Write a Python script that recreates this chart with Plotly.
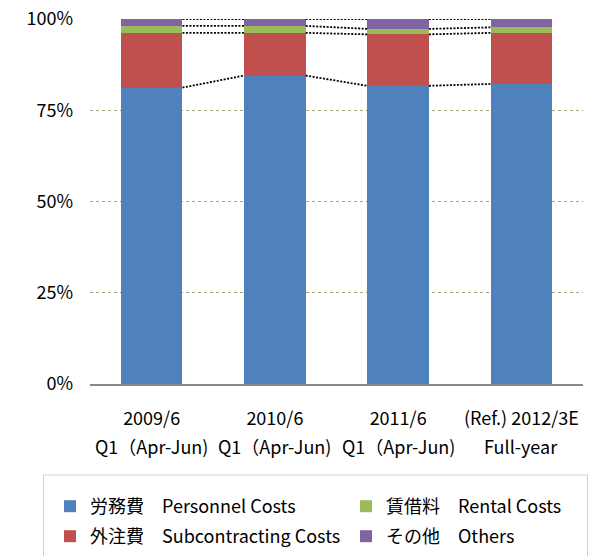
import plotly.graph_objects as go
import numpy as np

categories_line1 = ["2009/6", "2010/6", "2011/6", "(Ref.) 2012/3E"]
categories_line2 = ["Q1（Apr-Jun)", "Q1（Apr-Jun)", "Q1（Apr-Jun)", "Full-year"]
personnel = [81.2, 84.5, 81.7, 82.2]
subcontracting = [15.0, 11.7, 14.1, 14.0]
rental = [1.9, 1.9, 1.5, 1.5]
others = [1.9, 1.9, 2.7, 2.3]
series_names = ["労務費　Personnel Costs", "外注費　Subcontracting Costs",
                "賃借料　Rental Costs", "その他　Others"]
y_ticks = [0, 25, 50, 75, 100]
y_ticktext = ["0%", "25%", "50%", "75%", "100%"]

colors = ["#4F81BD", "#C0504D", "#9BBB59", "#8064A2"]
FONT = "Noto Sans CJK JP"
FS = 18
W, H = 590, 556
L, R, T, B = 90, 7, 19, 172
PW, PH = W - L - R, H - T - B

def px_x(px):
    return (px - L) / PW

def px_y(py):
    return (H - B - py) / PH

x = list(range(len(categories_line1)))
series = [personnel, subcontracting, rental, others]
legend_ids = ["legend", "legend3", "legend2", "legend4"]
bar_w = 0.5

fig = go.Figure()
for s, name, c, lg in zip(series, series_names, colors, legend_ids):
    fig.add_trace(go.Bar(x=x, y=s, name=name, marker=dict(color=c, line=dict(width=0)),
                         width=bar_w, legend=lg))

# series lines (dotted connectors between bar tops)
cum = np.cumsum(np.array(series), axis=0)
for level in cum:
    for i in range(len(x) - 1):
        fig.add_trace(go.Scatter(x=[x[i] + bar_w / 2, x[i + 1] - bar_w / 2],
                                 y=[level[i], level[i + 1]], mode="lines",
                                 line=dict(color="#000000", width=1.8, dash="2px,1.5px"),
                                 showlegend=False, hoverinfo="skip"))

# second line of category labels
for xi, t in zip(x, categories_line2):
    fig.add_annotation(x=xi, xref="x", y=px_y(446), yref="paper", text=t,
                       showarrow=False, yanchor="middle", xanchor="center",
                       font=dict(family=FONT, size=FS, color="#000000"))

# legend frame
fig.add_shape(type="rect", xref="paper", yref="paper",
              x0=px_x(43.5), x1=px_x(587.5), y0=px_y(475), y1=px_y(575),
              line=dict(color="#D0D0D0", width=1), fillcolor="rgba(0,0,0,0)")

def leg(xp, yp):
    return dict(orientation="h", x=px_x(xp), y=px_y(yp), xanchor="left", yanchor="top",
                font=dict(family=FONT, size=FS, color="#000000"),
                bgcolor="rgba(0,0,0,0)", borderwidth=0)

fig.update_layout(
    width=W, height=H,
    margin=dict(l=L, r=R, t=T, b=B, autoexpand=False),
    barmode="stack",
    plot_bgcolor="white", paper_bgcolor="white",
    font=dict(family=FONT, size=FS, color="#000000"),
    xaxis=dict(tickvals=x, ticktext=categories_line1, range=[-0.5, 3.5],
               showgrid=False, showline=True, linecolor="#888888", linewidth=1.5,
               ticks="", tickangle=0, ticklabelstandoff=18, zeroline=False),
    yaxis=dict(range=[0, 100], tickvals=y_ticks, ticktext=y_ticktext,
               showgrid=True, gridcolor="#ADA57A", griddash="dot", gridwidth=1,
               zeroline=False, ticks="", ticklabelstandoff=16),
    legend=leg(50, 488),
    legend2=leg(346, 488),
    legend3=leg(50, 518),
    legend4=leg(346, 518),
    showlegend=True,
)

fig.write_html("out.html", config={"displayModeBar": False},
               post_script="document.body.style.margin='0';document.body.style.padding='0';")
